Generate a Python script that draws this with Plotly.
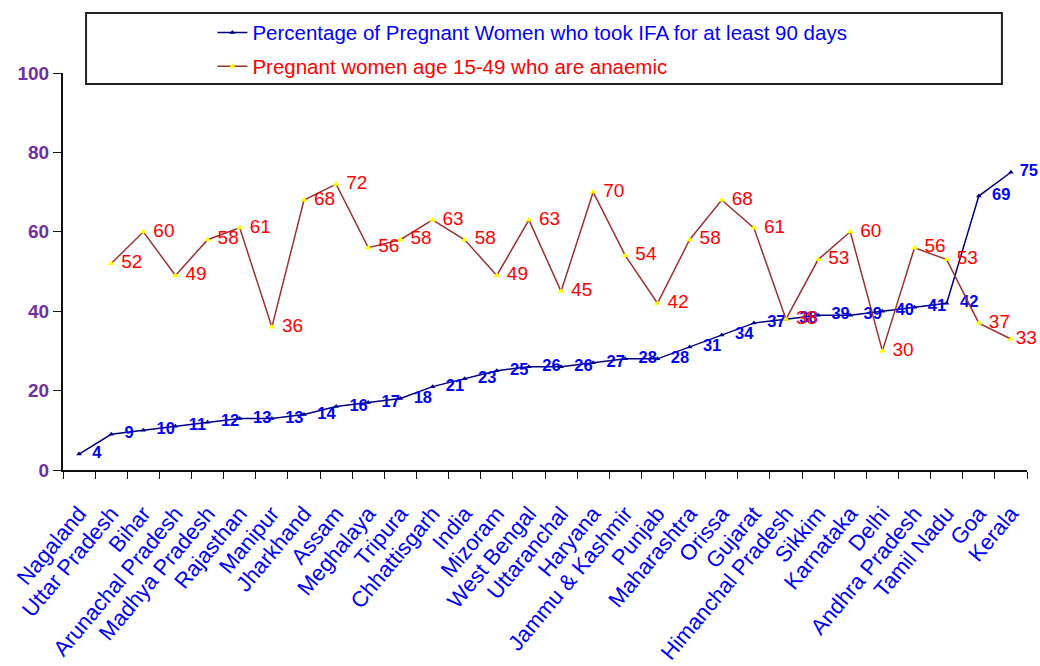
import plotly.graph_objects as go

states = [
    "Nagaland", "Uttar Pradesh", "Bihar", "Arunachal Pradesh", "Madhya Pradesh",
    "Rajasthan", "Manipur", "Jharkhand", "Assam", "Meghalaya", "Tripura",
    "Chhattisgarh", "India", "Mizoram", "West Bengal", "Uttaranchal", "Haryana",
    "Jammu & Kashmir", "Punjab", "Maharashtra", "Orissa", "Gujarat",
    "Himanchal Pradesh", "Sikkim", "Karnataka", "Delhi", "Andhra Pradesh",
    "Tamil Nadu", "Goa", "Kerala",
]
ifa_90_days = [4, 9, 10, 11, 12, 13, 13, 14, 16, 17, 18, 21, 23, 25, 26, 26, 27,
               28, 28, 31, 34, 37, 38, 39, 39, 40, 41, 42, 69, 75]
anaemic = [None, 52, 60, 49, 58, 61, 36, 68, 72, 56, 58, 63, 58, 49, 63, 45, 70,
           54, 42, 58, 68, 61, 38, 53, 60, 30, 56, 53, 37, 33]
y_ticks = [0, 20, 40, 60, 80, 100]

FONT = "Arial, Liberation Sans, sans-serif"
NBSP = "\u00a0"


def value_labels(values, pad, last_pad):
    """Value labels padded away from the marker; the last one sits tighter
    so it stays inside the right edge."""
    out = []
    for i, v in enumerate(values):
        if v is None:
            out.append("")
            continue
        p = last_pad if i == len(values) - 1 else pad
        out.append(NBSP * p + str(v))
    return out


fig = go.Figure()
fig.add_trace(go.Scatter(
    x=states, y=ifa_90_days, mode="lines+markers+text",
    name='<span style="color:#0000FF">Percentage of Pregnant Women who took IFA for at least 90 days</span>',
    legendgroup="a",
    line=dict(color="#000080", width=1.5),
    marker=dict(symbol="triangle-up", size=5, color="#000080"),
    text=value_labels(ifa_90_days, 2, 1), textposition="middle right",
    textfont=dict(family=FONT, size=16.5, color="#0000FF", weight="bold"),
    cliponaxis=False,
))
fig.add_trace(go.Scatter(
    x=states, y=anaemic, mode="lines+markers+text",
    name='<span style="color:#FF0000">Pregnant women age 15-49 who are anaemic</span>',
    legendgroup="b",
    line=dict(color="#993333", width=1.5),
    marker=dict(symbol="triangle-up", size=6, color="#FFFF00"),
    text=value_labels(anaemic, 1, 0),
    textposition="middle right",
    textfont=dict(family=FONT, size=19, color="#FF0000"),
    cliponaxis=False,
))

# Legend frame
fig.add_shape(type="rect", xref="paper", yref="paper",
              x0=0.0239, x1=0.974, y0=0.972, y1=1.151,
              line=dict(color="#222222", width=2), fillcolor="rgba(0,0,0,0)")

fig.update_layout(
    width=1040, height=666,
    margin=dict(l=63, r=13, t=73, b=196, autoexpand=False),
    paper_bgcolor="white", plot_bgcolor="white",
    font=dict(family=FONT),
    showlegend=True,
    legend=dict(
        x=0.155, y=1.152, xanchor="left", yanchor="top",
        bgcolor="rgba(0,0,0,0)", borderwidth=0,
        font=dict(family=FONT, size=20.5),
        traceorder="grouped", tracegroupgap=4,
    ),
    xaxis=dict(
        type="category", range=[-0.5, 29.5], automargin=False,
        showline=True, linecolor="#111111", linewidth=2,
        ticks="outside", tickson="boundaries", ticklen=7, tickcolor="#111111",
        tickangle=-50, ticklabelstandoff=20, showgrid=False, zeroline=False,
        tickfont=dict(family=FONT, size=22, color="#0000FF"),
    ),
    yaxis=dict(
        range=[0, 100], tickvals=y_ticks, automargin=False,
        showline=True, linecolor="#111111", linewidth=2,
        ticks="outside", ticklen=8, tickcolor="#111111",
        showgrid=False, zeroline=False,
        tickfont=dict(family=FONT, size=19, color="#7030A0", weight="bold"),
    ),
)

fig.write_html("out.html")
